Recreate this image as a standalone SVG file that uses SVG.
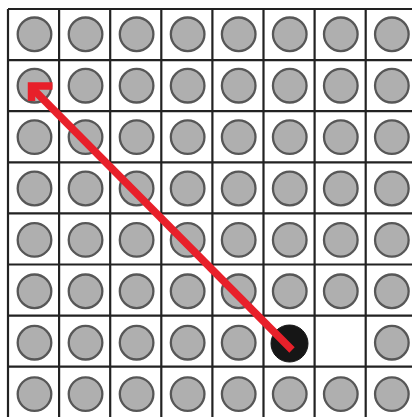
<svg xmlns="http://www.w3.org/2000/svg" width="412" height="417" viewBox="0 0 412 417">
<style>
.g{stroke:#222;stroke-width:2.2;fill:none}
.c{fill:#afafaf;stroke:#575757;stroke-width:2.3}
.b{fill:#161616;stroke:#161616;stroke-width:1}
.a{stroke:#e8202a;stroke-width:7.5;fill:none}
</style>
<rect width="412" height="417" fill="#fff"/>
<g id="grid" class="g">
<path d="M8,9V417M59.1,9V417M110.2,9V417M161.3,9V417M212.4,9V417M263.5,9V417M314.6,9V417M365.7,9V417"/>
<path d="M8,9H412M8,60.1H412M8,111.2H412M8,162.3H412M8,213.4H412M8,264.5H412M8,315.6H412M8,366.7H412"/>
</g>
<g id="nodes">
<g id="r0"><circle class="c" cx="34.5" cy="34.3" r="16.8"/><circle class="c" cx="85.55" cy="34.3" r="16.8"/><circle class="c" cx="136.6" cy="34.3" r="16.8"/><circle class="c" cx="187.65" cy="34.3" r="16.8"/><circle class="c" cx="238.7" cy="34.3" r="16.8"/><circle class="c" cx="289.75" cy="34.3" r="16.8"/><circle class="c" cx="340.8" cy="34.3" r="16.8"/><circle class="c" cx="391.85" cy="34.3" r="16.8"/></g>
<g id="r1"><circle id="target" class="c" cx="34.5" cy="85.7" r="16.8"/><circle class="c" cx="85.55" cy="85.7" r="16.8"/><circle class="c" cx="136.6" cy="85.7" r="16.8"/><circle class="c" cx="187.65" cy="85.7" r="16.8"/><circle class="c" cx="238.7" cy="85.7" r="16.8"/><circle class="c" cx="289.75" cy="85.7" r="16.8"/><circle class="c" cx="340.8" cy="85.7" r="16.8"/><circle class="c" cx="391.85" cy="85.7" r="16.8"/></g>
<g id="r2"><circle class="c" cx="34.5" cy="137.1" r="16.8"/><circle class="c" cx="85.55" cy="137.1" r="16.8"/><circle class="c" cx="136.6" cy="137.1" r="16.8"/><circle class="c" cx="187.65" cy="137.1" r="16.8"/><circle class="c" cx="238.7" cy="137.1" r="16.8"/><circle class="c" cx="289.75" cy="137.1" r="16.8"/><circle class="c" cx="340.8" cy="137.1" r="16.8"/><circle class="c" cx="391.85" cy="137.1" r="16.8"/></g>
<g id="r3"><circle class="c" cx="34.5" cy="188.5" r="16.8"/><circle class="c" cx="85.55" cy="188.5" r="16.8"/><circle class="c" cx="136.6" cy="188.5" r="16.8"/><circle class="c" cx="187.65" cy="188.5" r="16.8"/><circle class="c" cx="238.7" cy="188.5" r="16.8"/><circle class="c" cx="289.75" cy="188.5" r="16.8"/><circle class="c" cx="340.8" cy="188.5" r="16.8"/><circle class="c" cx="391.85" cy="188.5" r="16.8"/></g>
<g id="r4"><circle class="c" cx="34.5" cy="239.9" r="16.8"/><circle class="c" cx="85.55" cy="239.9" r="16.8"/><circle class="c" cx="136.6" cy="239.9" r="16.8"/><circle class="c" cx="187.65" cy="239.9" r="16.8"/><circle class="c" cx="238.7" cy="239.9" r="16.8"/><circle class="c" cx="289.75" cy="239.9" r="16.8"/><circle class="c" cx="340.8" cy="239.9" r="16.8"/><circle class="c" cx="391.85" cy="239.9" r="16.8"/></g>
<g id="r5"><circle class="c" cx="34.5" cy="291.3" r="16.8"/><circle class="c" cx="85.55" cy="291.3" r="16.8"/><circle class="c" cx="136.6" cy="291.3" r="16.8"/><circle class="c" cx="187.65" cy="291.3" r="16.8"/><circle class="c" cx="238.7" cy="291.3" r="16.8"/><circle class="c" cx="289.75" cy="291.3" r="16.8"/><circle class="c" cx="340.8" cy="291.3" r="16.8"/><circle class="c" cx="391.85" cy="291.3" r="16.8"/></g>
<g id="r6"><circle class="c" cx="34.5" cy="342.7" r="16.8"/><circle class="c" cx="85.55" cy="342.7" r="16.8"/><circle class="c" cx="136.6" cy="342.7" r="16.8"/><circle class="c" cx="187.65" cy="342.7" r="16.8"/><circle class="c" cx="238.7" cy="342.7" r="16.8"/><circle id="start" class="b" cx="289.5" cy="343.5" r="18.5"/><circle class="c" cx="391.85" cy="342.7" r="16.8"/></g>
<g id="r7"><circle class="c" cx="34.5" cy="394.1" r="16.8"/><circle class="c" cx="85.55" cy="394.1" r="16.8"/><circle class="c" cx="136.6" cy="394.1" r="16.8"/><circle class="c" cx="187.65" cy="394.1" r="16.8"/><circle class="c" cx="238.7" cy="394.1" r="16.8"/><circle class="c" cx="289.75" cy="394.1" r="16.8"/><circle class="c" cx="340.8" cy="394.1" r="16.8"/><circle class="c" cx="391.85" cy="394.1" r="16.8"/></g>
</g>
<g id="connectors">
<path class="a" d="M292,350L32,88"/>
<path class="a" d="M52.5,86H31.5V101" stroke-linejoin="miter"/>
</g>
</svg>
